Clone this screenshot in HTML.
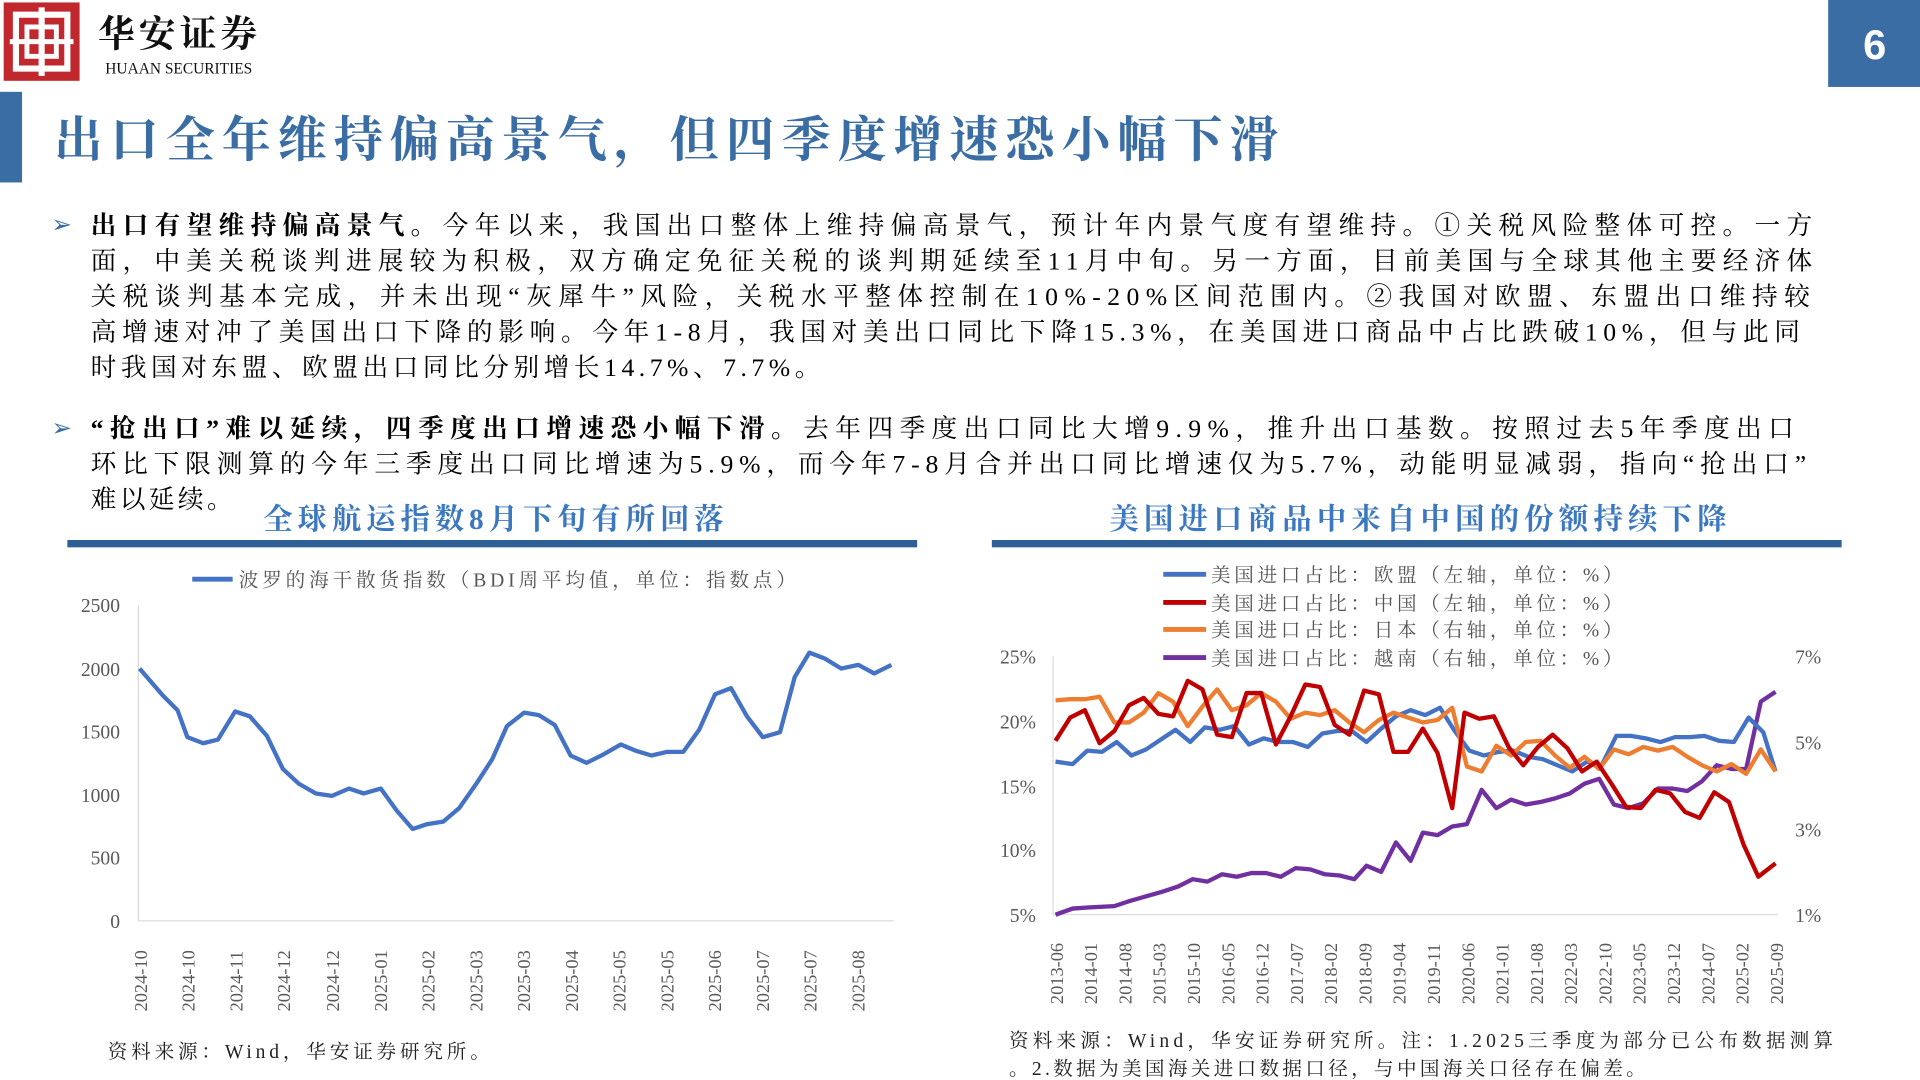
<!DOCTYPE html>
<html><head><meta charset="utf-8"><style>
html,body{margin:0;padding:0;background:#fff;overflow:hidden;}
#w{width:1568px;height:882px;position:relative;transform:scale(1.22449);transform-origin:0 0;}
</style></head><body><div id="w">
<svg width="1568" height="882" style="position:absolute;left:0;top:0" font-family="Liberation Serif, Noto Serif CJK SC, serif">
<rect x="3" y="2" width="62" height="64" fill="#c0282d"/>
<rect x="13" y="12" width="42" height="44" fill="none" stroke="#fff" stroke-width="5"/>
<rect x="22" y="22" width="24" height="24" fill="none" stroke="#fff" stroke-width="4"/>
<line x1="34" y1="6" x2="34" y2="62" stroke="#fff" stroke-width="5"/>
<line x1="8" y1="34" x2="60" y2="34" stroke="#fff" stroke-width="4"/>
<text x="80" y="38" font-size="30" font-weight="bold" fill="#111" textLength="130" lengthAdjust="spacing">华安证券</text>
<text x="86" y="60" font-size="13" fill="#111" font-family="Liberation Serif, serif" textLength="120" lengthAdjust="spacingAndGlyphs">HUAAN SECURITIES</text>
<rect x="1493" y="0" width="75" height="71" fill="#3b6da5"/>
<text x="1531" y="48" font-size="34" fill="#fff" text-anchor="middle" font-family="Liberation Sans, sans-serif" font-weight="bold">6</text>
<rect x="0" y="75" width="18" height="74" fill="#3b6da5"/>
<text x="44" y="128" font-size="40" font-weight="bold" fill="#3b6da5" textLength="1000" lengthAdjust="spacing">出口全年维持偏高景气，但四季度增速恐小幅下滑</text>
<text x="42" y="190" font-size="20" fill="#3b6da5">➢</text>
<text x="42" y="356" font-size="20" fill="#3b6da5">➢</text>
<g font-size="21" fill="#000" lengthAdjust="spacing">
<text x="74" y="191" textLength="1406" lengthAdjust="spacing"><tspan font-weight="bold">出口有望维持偏高景气。</tspan>今年以来，我国出口整体上维持偏高景气，预计年内景气度有望维持。①关税风险整体可控。一方</text>
<text x="74" y="220" textLength="1406" lengthAdjust="spacing">面，中美关税谈判进展较为积极，双方确定免征关税的谈判期延续至11月中旬。另一方面，目前美国与全球其他主要经济体</text>
<text x="74" y="249" textLength="1404" lengthAdjust="spacing">关税谈判基本完成，并未出现“灰犀牛”风险，关税水平整体控制在10%-20%区间范围内。②我国对欧盟、东盟出口维持较</text>
<text x="74" y="278" textLength="1396" lengthAdjust="spacing">高增速对冲了美国出口下降的影响。今年1-8月，我国对美出口同比下降15.3%，在美国进口商品中占比跌破10%，但与此同</text>
<text x="74" y="307" textLength="596" lengthAdjust="spacing">时我国对东盟、欧盟出口同比分别增长14.7%、7.7%。</text>
<text x="74" y="357" textLength="1391" lengthAdjust="spacing"><tspan font-weight="bold">“抢出口”难以延续，四季度出口增速恐小幅下滑。</tspan>去年四季度出口同比大增9.9%，推升出口基数。按照过去5年季度出口</text>
<text x="74" y="386" textLength="1401" lengthAdjust="spacing">环比下限测算的今年三季度出口同比增速为5.9%，而今年7-8月合并出口同比增速仅为5.7%，动能明显减弱，指向“抢出口”</text>
<text x="74" y="415" textLength="116" lengthAdjust="spacing">难以延续。</text>
</g>
<text x="215" y="432" font-size="24" font-weight="bold" fill="#3b78c0" textLength="376" lengthAdjust="spacing">全球航运指数8月下旬有所回落</text>
<rect x="55" y="441" width="694" height="6" fill="#2e6096"/>
<text x="906" y="432" font-size="24" font-weight="bold" fill="#3b78c0" textLength="504" lengthAdjust="spacing">美国进口商品中来自中国的份额持续下降</text>
<rect x="810" y="441" width="694" height="6" fill="#2e6096"/>
<!-- left chart -->
<line x1="157" y1="473" x2="190" y2="473" stroke="#4472c4" stroke-width="4"/>
<text x="195" y="479" font-size="16" fill="#555" textLength="455" lengthAdjust="spacing">波罗的海干散货指数（BDI周平均值，单位：指数点）</text>
<g font-size="16" fill="#595959" text-anchor="end">
<text x="98" y="500">2500</text><text x="98" y="552">2000</text><text x="98" y="603">1500</text><text x="98" y="655">1000</text><text x="98" y="706">500</text><text x="98" y="758">0</text>
</g>
<line x1="113" y1="494" x2="113" y2="752" stroke="#d9d9d9"/>
<line x1="113" y1="752" x2="730" y2="752" stroke="#d9d9d9"/>
<polyline fill="none" stroke="#4472c4" stroke-width="3.5" stroke-linejoin="round" points="114,546 133,568 145,580 153,602 166,607 178,604 192,581 204,585 218,601 231,628 244,640 258,648 271,650 285,644 297,648 311,644 324,662 337,677 349,673 362,671 375,660 389,640 402,620 414,593 428,582 440,584 453,592 466,617 479,623 493,616 507,608 519,613 532,617 545,614 558,614 571,596 584,567 597,562 610,585 623,602 637,598 649,553 661,533 674,538 687,546 701,543 714,550 728,543"/>
<g font-size="15" fill="#595959">
<text transform="translate(120,826) rotate(-90)">2024-10</text><text transform="translate(159,826) rotate(-90)">2024-10</text><text transform="translate(198,826) rotate(-90)">2024-11</text><text transform="translate(237,826) rotate(-90)">2024-12</text><text transform="translate(277,826) rotate(-90)">2024-12</text><text transform="translate(316,826) rotate(-90)">2025-01</text><text transform="translate(355,826) rotate(-90)">2025-02</text><text transform="translate(394,826) rotate(-90)">2025-03</text><text transform="translate(433,826) rotate(-90)">2025-03</text><text transform="translate(472,826) rotate(-90)">2025-04</text><text transform="translate(511,826) rotate(-90)">2025-05</text><text transform="translate(550,826) rotate(-90)">2025-05</text><text transform="translate(589,826) rotate(-90)">2025-06</text><text transform="translate(628,826) rotate(-90)">2025-07</text><text transform="translate(667,826) rotate(-90)">2025-07</text><text transform="translate(706,826) rotate(-90)">2025-08</text>
</g>
<text x="88" y="864" font-size="16" fill="#222" textLength="312" lengthAdjust="spacing">资料来源：Wind，华安证券研究所。</text>
<!-- right chart legend -->
<g font-size="16" fill="#555">
<line x1="950" y1="469" x2="985" y2="469" stroke="#4472c4" stroke-width="4"/><text x="989" y="475" textLength="336" lengthAdjust="spacing">美国进口占比：欧盟（左轴，单位：%）</text>
<line x1="950" y1="492" x2="985" y2="492" stroke="#c00000" stroke-width="4"/><text x="989" y="498" textLength="336" lengthAdjust="spacing">美国进口占比：中国（左轴，单位：%）</text>
<line x1="950" y1="514" x2="985" y2="514" stroke="#ed7d31" stroke-width="4"/><text x="989" y="520" textLength="336" lengthAdjust="spacing">美国进口占比：日本（右轴，单位：%）</text>
<line x1="950" y1="537" x2="985" y2="537" stroke="#7030a0" stroke-width="4"/><text x="989" y="543" textLength="336" lengthAdjust="spacing">美国进口占比：越南（右轴，单位：%）</text>
</g>
<g font-size="16" fill="#595959" text-anchor="end">
<text x="846" y="542">25%</text><text x="846" y="595">20%</text><text x="846" y="648">15%</text><text x="846" y="700">10%</text><text x="846" y="753">5%</text>
</g>
<g font-size="16" fill="#595959">
<text x="1466" y="542">7%</text><text x="1466" y="612">5%</text><text x="1466" y="683">3%</text><text x="1466" y="753">1%</text>
</g>
<line x1="860" y1="536" x2="860" y2="747" stroke="#d9d9d9"/>
<line x1="860" y1="747" x2="1452" y2="747" stroke="#d9d9d9"/>
<g fill="none" stroke-width="3.5" stroke-linejoin="round">
<polyline stroke="#7030a0" points="862,747 876,742 890,741 910,740 922,736 936,732 950,728 962,724 974,718 986,720 998,714 1010,716 1022,713 1034,713 1046,716 1058,709 1070,710 1082,714 1094,715 1106,718 1116,707 1128,712 1140,688 1152,703 1162,680 1174,682 1186,675 1198,673 1210,645 1222,660 1234,653 1246,657 1258,655 1270,652 1282,648 1294,640 1306,636 1318,657 1330,660 1342,656 1354,644 1366,644 1378,646 1390,638 1402,625 1414,628 1426,628 1438,573 1450,565"/>
<polyline stroke="#4472c4" points="862,622 876,624 888,613 900,614 912,606 924,617 936,612 948,604 960,596 972,606 984,594 996,596 1008,593 1020,608 1032,603 1044,606 1056,606 1068,610 1080,599 1092,597 1104,597 1116,606 1128,595 1140,585 1152,580 1164,584 1176,578 1188,597 1200,613 1212,617 1224,614 1236,613 1248,618 1260,620 1272,625 1284,630 1296,622 1308,625 1320,601 1332,601 1344,603 1356,606 1368,602 1380,602 1392,601 1404,605 1416,606 1428,586 1440,598 1450,630"/>
<polyline stroke="#ed7d31" points="862,572 874,571 886,571 898,569 910,590 922,590 934,582 946,566 958,573 970,593 982,577 994,563 1006,580 1018,576 1030,566 1042,573 1054,587 1066,582 1078,584 1090,580 1102,590 1114,598 1126,588 1138,582 1150,586 1162,590 1174,588 1186,578 1198,626 1210,630 1222,609 1234,617 1246,606 1258,605 1270,617 1282,627 1294,618 1306,628 1318,612 1330,616 1342,610 1354,613 1366,610 1378,618 1390,625 1402,630 1414,624 1426,632 1438,612 1450,630"/>
<polyline stroke="#c00000" points="862,605 874,586 886,580 898,607 910,597 922,576 934,570 946,583 958,585 970,556 982,563 994,600 1006,602 1018,566 1030,566 1042,608 1054,585 1066,559 1078,561 1090,592 1102,600 1114,564 1126,567 1138,614 1150,614 1162,595 1174,615 1186,660 1196,582 1208,587 1220,585 1232,610 1244,625 1256,610 1268,600 1280,611 1292,630 1304,622 1316,640 1328,659 1340,660 1352,645 1364,648 1376,663 1388,668 1400,647 1412,655 1424,690 1436,716 1450,705"/>
</g>
<g font-size="15" fill="#595959">
<text transform="translate(868,820) rotate(-90)">2013-06</text><text transform="translate(896,820) rotate(-90)">2014-01</text><text transform="translate(924,820) rotate(-90)">2014-08</text><text transform="translate(952,820) rotate(-90)">2015-03</text><text transform="translate(980,820) rotate(-90)">2015-10</text><text transform="translate(1008,820) rotate(-90)">2016-05</text><text transform="translate(1036,820) rotate(-90)">2016-12</text><text transform="translate(1064,820) rotate(-90)">2017-07</text><text transform="translate(1092,820) rotate(-90)">2018-02</text><text transform="translate(1120,820) rotate(-90)">2018-09</text><text transform="translate(1148,820) rotate(-90)">2019-04</text><text transform="translate(1176,820) rotate(-90)">2019-11</text><text transform="translate(1204,820) rotate(-90)">2020-06</text><text transform="translate(1232,820) rotate(-90)">2021-01</text><text transform="translate(1260,820) rotate(-90)">2021-08</text><text transform="translate(1288,820) rotate(-90)">2022-03</text><text transform="translate(1316,820) rotate(-90)">2022-10</text><text transform="translate(1344,820) rotate(-90)">2023-05</text><text transform="translate(1372,820) rotate(-90)">2023-12</text><text transform="translate(1400,820) rotate(-90)">2024-07</text><text transform="translate(1428,820) rotate(-90)">2025-02</text><text transform="translate(1456,820) rotate(-90)">2025-09</text>
</g>
<text x="824" y="855" font-size="16" fill="#222" textLength="673" lengthAdjust="spacing">资料来源：Wind，华安证券研究所。注：1.2025三季度为部分已公布数据测算</text>
<text x="824" y="878" font-size="16" fill="#222" textLength="520" lengthAdjust="spacing">。2.数据为美国海关进口数据口径，与中国海关口径存在偏差。</text>
</svg>
</div></body></html>
